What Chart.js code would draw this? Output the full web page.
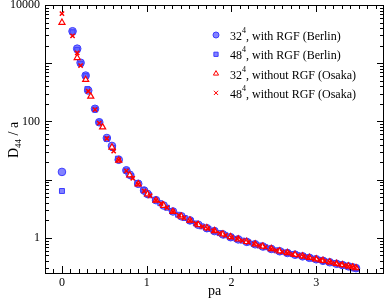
<!DOCTYPE html>
<html>
<head>
<meta charset="utf-8">
<script src="https://cdn.jsdelivr.net/npm/chart.js@4"></script>
<style>
  html, body { margin: 0; padding: 0; background: #fff; }
  #wrap { width: 385px; height: 300px; }
</style>
</head>
<body>
<div id="wrap"><canvas id="ghostChart"></canvas></div>
<script>
// values
const berlin32Pa = [0, 0.125, 0.18, 0.22, 0.28, 0.31, 0.39, 0.44, 0.53, 0.59, 0.67, 0.76, 0.80, 0.90, 0.97, 1.01, 1.11, 1.20, 1.31, 1.41, 1.51, 1.61, 1.71, 1.80, 1.90, 1.99, 2.08, 2.18, 2.28, 2.37, 2.47, 2.57, 2.66, 2.75, 2.84, 2.92, 3.00, 3.08, 3.16, 3.24, 3.31, 3.38, 3.43, 3.47];
const berlin32D = [13.6, 3540, 1780, 1020, 614, 340, 165, 97, 52, 38, 22, 14.5, 12.2, 8.5, 6.5, 5.7, 4.45, 3.6, 2.85, 2.35, 2.0, 1.68, 1.47, 1.31, 1.15, 1.03, 0.944, 0.857, 0.778, 0.713, 0.647, 0.59, 0.552, 0.516, 0.483, 0.456, 0.43, 0.405, 0.382, 0.36, 0.342, 0.325, 0.313, 0.303];

const berlin48Pa = [0, 0.125, 0.18, 0.22, 0.28, 0.30, 0.39, 0.44, 0.53, 0.60, 0.66, 0.76, 0.82, 0.89, 0.96, 1.03, 1.10, 1.16, 1.24, 1.30, 1.37, 1.45, 1.52, 1.58, 1.65, 1.73, 1.79, 1.86, 1.93, 2.00, 2.06, 2.13, 2.20, 2.26, 2.33, 2.40, 2.46, 2.53, 2.59, 2.66, 2.72, 2.78, 2.85, 2.91, 2.97, 3.03, 3.09, 3.15, 3.21, 3.27, 3.32, 3.37, 3.42, 3.45, 3.47];
const berlin48D = [6.4, 3400, 1700, 980, 600, 360, 160, 96, 50, 35, 23, 14.3, 11.5, 8.8, 6.7, 5.4, 4.5, 3.95, 3.3, 2.9, 2.5, 2.2, 1.96, 1.77, 1.58, 1.43, 1.33, 1.21, 1.11, 1.02, 0.963, 0.9, 0.841, 0.794, 0.741, 0.693, 0.654, 0.612, 0.582, 0.552, 0.528, 0.505, 0.48, 0.459, 0.44, 0.42, 0.402, 0.385, 0.368, 0.352, 0.34, 0.327, 0.315, 0.308, 0.301];

const osaka32Pa = [0, 0.18, 0.28, 0.34, 0.48, 0.59, 0.67, 0.80, 0.90, 1.01, 1.11, 1.20, 1.31, 1.41, 1.51, 1.61, 1.71, 1.80, 1.90, 1.99, 2.08, 2.18, 2.28, 2.37, 2.47, 2.57, 2.66, 2.75, 2.84, 2.92, 3.00, 3.08, 3.16, 3.24, 3.31, 3.38, 3.43, 3.47];
const osaka32D = [5000, 1240, 522, 270, 80, 36, 21.5, 12, 8.4, 5.65, 4.4, 3.6, 2.82, 2.34, 2.0, 1.67, 1.48, 1.32, 1.16, 1.04, 0.95, 0.86, 0.78, 0.715, 0.65, 0.592, 0.553, 0.518, 0.485, 0.458, 0.432, 0.407, 0.384, 0.362, 0.344, 0.327, 0.315, 0.305];

const osaka48Pa = [0, 0.125, 0.18, 0.22, 0.31, 0.39, 0.44, 0.53, 0.61, 0.67, 0.76, 0.835, 0.90, 0.97, 1.04, 1.11, 1.17, 1.24, 1.31, 1.38, 1.44, 1.51, 1.58, 1.66, 1.72, 1.79, 1.86, 1.93, 2.00, 2.07, 2.13, 2.20, 2.27, 2.33, 2.40, 2.47, 2.53, 2.60, 2.66, 2.72, 2.79, 2.85, 2.91, 2.98, 3.04, 3.10, 3.16, 3.22, 3.27, 3.33, 3.38, 3.42, 3.46];
const osaka48D = [7100, 2960, 1510, 910, 330, 160, 94, 51, 31, 21.8, 14.2, 10.6, 8.4, 6.4, 5.3, 4.4, 3.9, 3.3, 2.82, 2.47, 2.2, 1.98, 1.77, 1.57, 1.44, 1.33, 1.21, 1.11, 1.02, 0.96, 0.9, 0.84, 0.79, 0.74, 0.693, 0.65, 0.612, 0.578, 0.552, 0.528, 0.502, 0.48, 0.459, 0.437, 0.418, 0.4, 0.384, 0.366, 0.352, 0.337, 0.326, 0.316, 0.306];

const xTickLabels = [0, 1, 2, 3];
const yTickLabels = [1, 100, 10000];

const SERIF = '"Liberation Serif", "DejaVu Serif", serif';
const BLUE_FILL = 'rgba(90, 90, 255, 0.75)';
const BLUE_EDGE = 'rgb(60, 60, 255)';
const RED = 'rgb(255, 0, 0)';

const toPoints = (xs, ys) => xs.map((x, i) => ({ x: x, y: ys[i] }));

const legendItems = [
  { base: '32', rest: ', with RGF (Berlin)', style: 'circle', fill: BLUE_FILL, edge: BLUE_EDGE },
  { base: '48', rest: ', with RGF (Berlin)', style: 'rect', fill: BLUE_FILL, edge: BLUE_EDGE },
  { base: '32', rest: ', without RGF (Osaka)', style: 'triangle', fill: '#fff', edge: RED },
  { base: '48', rest: ', without RGF (Osaka)', style: 'crossRot', fill: RED, edge: RED },
];

// inward ticks on all four sides, legend and y title
const framePlugin = {
  id: 'frame',
  afterDraw(chart) {
    const ctx = chart.ctx;
    const xs = chart.scales.x, ys = chart.scales.y;
    const a = chart.chartArea;
    ctx.save();
    ctx.strokeStyle = '#000';
    ctx.lineWidth = 1;
    ctx.beginPath();
    for (let k = -1; k <= 37; k++) {
      const v = k / 10;
      const px = Math.round(xs.getPixelForValue(v)) + 0.5;
      const len = k % 10 === 0 ? 7 : 4;
      ctx.moveTo(px, a.bottom); ctx.lineTo(px, a.bottom - len);
      ctx.moveTo(px, a.top); ctx.lineTo(px, a.top + len);
    }
    for (let e = -1; e <= 4; e++) {
      for (let m = 1; m <= 9; m++) {
        const v = m * Math.pow(10, e);
        if (v < ys.min || v > ys.max) continue;
        const py = Math.round(ys.getPixelForValue(v)) + 0.5;
        const len = m === 1 ? 7 : 4;
        ctx.moveTo(a.left, py); ctx.lineTo(a.left + len, py);
        ctx.moveTo(a.right, py); ctx.lineTo(a.right - len, py);
      }
    }
    ctx.stroke();
    ctx.strokeRect(a.left + 0.5, a.top + 0.5, a.right - a.left - 1, a.bottom - a.top);

    // legend
    ctx.textBaseline = 'middle';
    legendItems.forEach((it, i) => {
      const y = 35 + i * 19.3;
      ctx.fillStyle = it.fill;
      ctx.strokeStyle = it.edge;
      Chart.helpers.drawPoint(ctx, { pointStyle: it.style, radius: 3, borderWidth: 1.2, rotation: 0 }, 216, y);
      ctx.fillStyle = '#000';
      ctx.font = '12px ' + SERIF;
      ctx.fillText(it.base, 230, y + 2);
      const w = ctx.measureText(it.base).width;
      ctx.font = '8px ' + SERIF;
      ctx.fillText('4', 230 + w, y - 4);
      const w2 = ctx.measureText('4').width;
      ctx.font = '12px ' + SERIF;
      ctx.fillText(it.rest, 230 + w + w2, y + 2);
    });

    // y title: D_44 / a
    ctx.translate(13, 140);
    ctx.rotate(-Math.PI / 2);
    ctx.fillStyle = '#000';
    ctx.textBaseline = 'alphabetic';
    const parts = [['D', 14, 0], ['44', 9, 3], [' / a', 14, 0]];
    let total = 0;
    parts.forEach(p => { ctx.font = p[1] + 'px ' + SERIF; total += ctx.measureText(p[0]).width; });
    let cx = -total / 2;
    parts.forEach(p => {
      ctx.font = p[1] + 'px ' + SERIF;
      ctx.fillText(p[0], cx, 5 + p[2]);
      cx += ctx.measureText(p[0]).width;
    });
    ctx.restore();
  }
};

new Chart(document.getElementById('ghostChart'), {
  type: 'scatter',
  data: {
    datasets: [
      {
        label: '48^4, without RGF (Osaka)',
        data: toPoints(osaka48Pa, osaka48D),
        pointStyle: 'crossRot',
        radius: 3,
        borderWidth: 1.5,
        borderColor: RED,
        backgroundColor: RED,
      },
      {
        label: '32^4, without RGF (Osaka)',
        data: toPoints(osaka32Pa, osaka32D),
        pointStyle: 'triangle',
        radius: 3.5,
        borderWidth: 1.2,
        borderColor: RED,
        backgroundColor: '#fff',
      },
      {
        label: '48^4, with RGF (Berlin)',
        data: toPoints(berlin48Pa, berlin48D),
        pointStyle: 'rect',
        radius: 3.5,
        borderWidth: 1,
        borderColor: BLUE_EDGE,
        backgroundColor: BLUE_FILL,
      },
      {
        label: '32^4, with RGF (Berlin)',
        data: toPoints(berlin32Pa, berlin32D),
        pointStyle: 'circle',
        radius: 3.8,
        borderWidth: 1,
        borderColor: BLUE_EDGE,
        backgroundColor: BLUE_FILL,
      },
    ]
  },
  options: {
    responsive: true,
    maintainAspectRatio: false,
    animation: false,
    layout: { autoPadding: false, padding: { top: 5, right: 1, left: 0, bottom: 0 } },
    plugins: {
      legend: { display: false },
      tooltip: { enabled: false }
    },
    scales: {
      x: {
        type: 'linear',
        min: -0.2,
        max: 3.8,
        afterBuildTicks: s => { s.ticks = xTickLabels.map(v => ({ value: v })); },
        afterFit: s => { s.height = 27; s.paddingLeft = 0; s.paddingRight = 0; },
        grid: { display: false, drawTicks: false },
        border: { display: false },
        ticks: {
          color: '#000',
          font: { family: SERIF, size: 12 },
          padding: 3,
          maxRotation: 0,
          callback: v => String(v)
        },
        title: {
          display: true,
          text: 'pa',
          color: '#000',
          font: { family: SERIF, size: 14 },
          padding: { top: 1, bottom: 0 }
        }
      },
      y: {
        type: 'logarithmic',
        min: 0.25,
        max: 10000,
        afterBuildTicks: s => { s.ticks = yTickLabels.map(v => ({ value: v })); },
        afterFit: s => { s.width = 45; s.paddingTop = 0; s.paddingBottom = 0; },
        grid: { display: false, drawTicks: false },
        border: { display: false },
        ticks: {
          color: '#000',
          font: { family: SERIF, size: 12 },
          padding: 5,
          callback: v => String(v)
        }
      }
    }
  },
  plugins: [framePlugin]
});
</script>
</body>
</html>
